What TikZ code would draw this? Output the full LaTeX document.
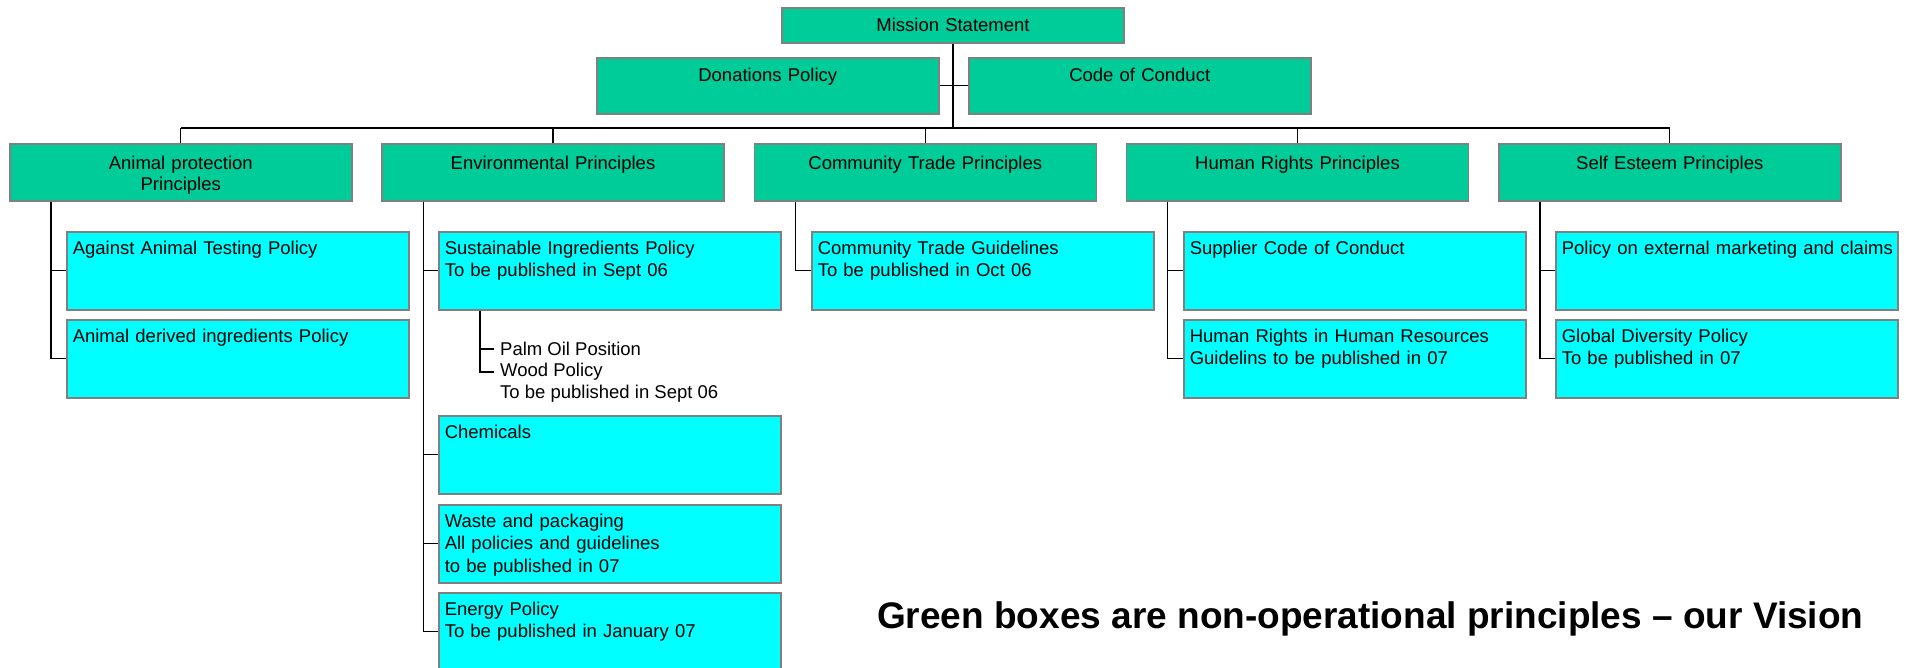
\documentclass[tikz,border=0pt]{standalone}
\usepackage{fontspec}
\setmainfont{Liberation Sans}
\usetikzlibrary{calc}
\definecolor{greenbox}{RGB}{0,204,153}
\definecolor{cyanbox}{RGB}{0,255,255}
\definecolor{rimgrey}{RGB}{128,128,128}
\tikzstyle{principle}=[rectangle,draw=rimgrey,fill=greenbox,line width=1.5pt,anchor=north west,inner xsep=0pt,inner ysep=0pt,text width=342pt,align=center,text height=24pt,font=\fontsize{18.5}{21}\selectfont]
\tikzstyle{policy}=[rectangle,draw=rimgrey,fill=cyanbox,line width=1.5pt,anchor=north west,inner xsep=6pt,inner ysep=0pt,text width=330pt,align=left,text height=22.5pt,text depth=55.5pt]
\tikzstyle{link} = [draw,line width=1.2pt]
\tikzstyle{note} = [anchor=west,inner xsep=6pt,inner ysep=0pt]

\begin{document}
\begin{tikzpicture}[x=1pt,y=-1pt,font=\fontsize{18.5}{22.5}\selectfont]

\useasboundingbox (0,0) rectangle (1906,667);
\clip (0,0) rectangle (1906,667);

%top
    \node[principle,anchor=north,text depth=11pt] (ms) at (953,7) {Mission Statement};
    \node[principle,text depth=32pt] (dp) at (596,57) {Donations Policy};
    \node[principle,text depth=32pt] (cc) at (968,57) {Code of Conduct};
    \path[link] (dp) -- (cc);

%layer 1
    \foreach \x/\name/\txt in {9/ap/{Animal protection\\Principles}, 381.25/ep/{Environmental Principles}, 753.5/ct/{Community Trade Principles}, 1125.75/hr/{Human Rights Principles}, 1498/se/{Self Esteem Principles}}
        \node[principle,text height=25.5pt,text depth=31.5pt] (\name) at (\x,143) {\txt};

    \coordinate (hub) at (953,128);
    \path[link] (ms) -- (hub);
    \path[link] (hub -| ap.north) -- (hub -| se.north);
    \foreach \name in {ap,ep,ct,hr,se}
        \path[link] (hub -| \name.north) -- (\name.north);

%layer 2
    \foreach \x/\y/\name/\txt in {66/231/aa/{Against Animal Testing Policy}, 66/319/ad/{Animal derived ingredients Policy}, 438/231/si/{Sustainable Ingredients Policy\\To be published in Sept 06}, 438/415/ch/{Chemicals}, 438/504/wp/{Waste and packaging\\All policies and guidelines\\to be published in 07}, 438/592/en/{Energy Policy\\To be published in January 07}, 811/231/cg/{Community Trade Guidelines\\To be published in Oct 06}, 1183/231/sc/{Supplier Code of Conduct}, 1183/319/hh/{Human Rights in Human Resources\\Guidelins to be published in 07}, 1555/231/pm/{\mbox{Policy on external marketing and claims}}, 1555/319/gd/{Global Diversity Policy\\To be published in 07}}
        \node[policy] (\name) at (\x,\y) {\txt};

    \foreach \up/\down in {ap/aa, ap/ad, ep/si, ep/ch, ep/wp, ep/en, ct/cg, hr/sc, hr/hh, se/pm, se/gd}
        \path[link] ([xshift=42pt]\up.south west) |- (\down.west);

%under sustainable ingredients
    \node[note] (po) at (494,349) {Palm Oil Position};
    \node[note] (wd) at (494,372) {Wood Policy};
    \node[note] (wn) at (494,394) {To be published in Sept 06};
    \path[link] ([xshift=42pt]si.south west) |- (po.west);
    \path[link] ([xshift=42pt]si.south west) |- (wd.west);

% Label
    \node[anchor=base west,inner sep=0pt,font=\bfseries\fontsize{37}{44}\selectfont] (vision) at (877,628) {Green boxes are non-operational principles – our Vision};

\end{tikzpicture}
\end{document}
